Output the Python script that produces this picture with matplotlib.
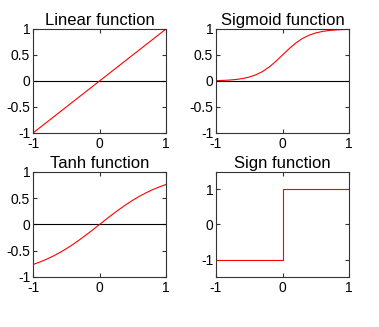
import matplotlib
matplotlib.use("Agg")
import matplotlib.pyplot as plt

plt.rcParams["font.family"] = ["Liberation Sans", "DejaVu Sans"]

# values
x_lin = [-1, 1]
y_lin = [-1, 1]

x_s = [-1, -0.9, -0.8, -0.7, -0.6, -0.5, -0.4, -0.3, -0.2, -0.1, 0,
       0.1, 0.2, 0.3, 0.4, 0.5, 0.6, 0.7, 0.8, 0.9, 1]
y_sig = [0.007, 0.011, 0.018, 0.029, 0.047, 0.076, 0.119, 0.182, 0.269, 0.378, 0.5,
         0.622, 0.731, 0.818, 0.881, 0.924, 0.953, 0.971, 0.982, 0.989, 0.993]
y_tanh = [-0.762, -0.716, -0.664, -0.604, -0.537, -0.462, -0.380, -0.291, -0.197, -0.100, 0,
          0.100, 0.197, 0.291, 0.380, 0.462, 0.537, 0.604, 0.664, 0.716, 0.762]

x_sign = [-1, 0, 0, 1]
y_sign = [-1, -1, 1, 1]

titles = ["Linear function", "Sigmoid function", "Tanh function", "Sign function"]

fig = plt.figure(figsize=(3.79, 3.27), dpi=100)

W, H = 379, 327
boxes = [(33, 29, 166, 133), (216, 29, 349, 133),
         (33, 172, 166, 277), (216, 172, 349, 277)]
series = [(x_lin, y_lin), (x_s, y_sig), (x_s, y_tanh), (x_sign, y_sign)]

for i, (box, (xs, ys), t) in enumerate(zip(boxes, series, titles)):
    x0, y0, x1, y1 = box
    ax = fig.add_axes([x0 / W, 1 - y1 / H, (x1 - x0) / W, (y1 - y0) / H])
    if i < 3:
        ax.axhline(0, color="black", lw=0.8)
        ax.set_ylim(-1, 1)
        ax.set_yticks([-1, -0.5, 0, 0.5, 1])
        ax.set_yticklabels(["-1", "-0.5", "0", "0.5", "1"])
    else:
        ax.set_ylim(-1.5, 1.5)
        ax.set_yticks([-1, 0, 1])
        ax.set_yticklabels(["-1", "0", "1"])
    ax.plot(xs, ys, color="red", lw=0.8)
    ax.set_xlim(-1, 1)
    ax.set_xticks([-1, 0, 1])
    ax.set_xticklabels(["-1", "0", "1"])
    ax.set_title(t, fontsize=12, pad=3)
    ax.tick_params(direction="in", top=True, right=True, length=3,
                   labelsize=10, color="#333333")
    ax.tick_params(axis="y", pad=2)
    ax.tick_params(axis="x", pad=3)
    for s in ax.spines.values():
        s.set_color("#333333")
        s.set_linewidth(0.8)

fig.savefig("out.png", dpi=100)
